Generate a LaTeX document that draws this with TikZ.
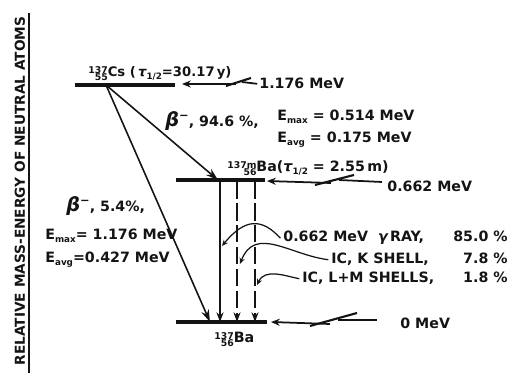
\documentclass[tikz,border=0pt]{standalone}
\usepackage{fontspec}
\setmainfont{DejaVu Sans}
\usetikzlibrary{arrows.meta, calc}
\definecolor{dsink}{HTML}{141414}

% small raised / lowered text for the decay-scheme labels
\newcommand{\lowtxt}[1]{\raisebox{-1.6pt}{\fontsize{5}{6}\selectfont #1}}
\newcommand{\hitxt}[1]{\raisebox{4pt}{\fontsize{6.5}{7}\selectfont #1}}
\newcommand{\nuc}[3]{\raisebox{-2pt}{\fontsize{5.3}{6}\selectfont
  \begin{tabular}[b]{@{}r@{}}#1\\[-1.8pt]#2\end{tabular}}#3}
\newcommand{\thalf}{{\itshape τ}\lowtxt{1/2}}
\newcommand{\bminus}{{\fontsize{11}{11}\selectfont\itshape β}\hitxt{−}}

\tikzset{
  every picture/.style={line join=round},
  lvl/.style={draw=dsink, line width=2pt},
  beta/.style={-{Stealth[length=7pt, width=4.5pt]}, draw=dsink, line width=0.9pt},
  gam/.style={beta, -{Stealth[length=5.5pt, width=4pt]}},
  ic/.style={gam, dash pattern=on 10pt off 2.5pt},
  feed/.style={-{Stealth[length=5pt, width=4pt]}, draw=dsink, line width=1pt},
  brk/.style={draw=dsink, line width=1.2pt},
  lead/.style={-{Stealth[length=3.5pt, width=3pt]}, draw=dsink, line width=0.7pt},
  lbl/.style={font=\bfseries\fontsize{8.1}{10}\selectfont, text=dsink,
    inner sep=0pt, anchor=base west},
  pct/.style={lbl, anchor=base east},
  axislbl/.style={font=\bfseries\fontsize{7.8}{9}\selectfont, text=dsink,
    rotate=90, inner xsep=0pt, inner ysep=1.3pt},
}

\begin{document}
\begin{tikzpicture}[x=0.02cm, y=-0.02cm]
\useasboundingbox (0,0) rectangle (512,377);

% ---- Ordinate
\node[axislbl] (axis) at (20,191) {RELATIVE MASS-ENERGY OF NEUTRAL ATOMS};
\draw[dsink, line width=0.8pt] ([xshift=0.6pt, yshift=-4pt]axis.south west)
  -- ([xshift=0.6pt, yshift=2pt]axis.south east);

% ---- Levels
\coordinate (cs-w)  at (75,85);
\coordinate (cs-e)  at (175,85);
\coordinate (cs-src) at (106,85);
\coordinate (bam-w) at (176,180);
\coordinate (bam-e) at (265,180);
\coordinate (ba-w)  at (176,322);
\coordinate (ba-e)  at (267,322);

\draw[lvl] (cs-w) -- (cs-e);
\draw[lvl] (bam-w) -- (bam-e);
\draw[lvl] (ba-w) -- (ba-e);

\node[lbl, font=\bfseries\fontsize{7.5}{10}\selectfont] (cs-lbl) at (88,77)
  {\nuc{137}{55}{Cs} (\,\thalf=30.17\,y)};
\node[lbl] (bam-lbl) at (227,172) {\nuc{137m}{56}{Ba}(\thalf{} = 2.55\,m)};
\node[lbl] (ba-lbl)  at (214,343) {\nuc{137}{56}{Ba}};

% ---- Level energies, arrow with a break from the value to the level
\node[lbl] (cs-en)  at (259,89)  {1.176 MeV};
\node[lbl] (bam-en) at (387,192) {0.662 MeV};
\node[lbl] (ba-en)  at (400,329) {0 MeV};

\coordinate (cs-tip)  at (182,84);
\coordinate (bam-tip) at (267,181);
\coordinate (ba-tip)  at (271,322);
\coordinate (cs-brk)  at (238,83);
\coordinate (bam-brk) at (334,181);
\coordinate (ba-brk)  at (333,321);
\coordinate (bam-end) at (382,182);
\coordinate (ba-end)  at (377,320);

\draw[dsink, line width=1pt] ([xshift=-1pt]cs-en.west) -- ($(cs-brk)+(4,-1)$);
\draw[feed] ($(cs-brk)+(-2,1)$) -- (cs-tip);
\draw[brk] ($(cs-brk)+(-12,3)$) -- ($(cs-brk)+(13,-5)$);

\draw[dsink, line width=1pt] (bam-end) -- ($(bam-brk)+(5,-1)$);
\draw[feed] ($(bam-brk)+(-3,2)$) -- (bam-tip);
\draw[brk] ($(bam-brk)+(-19,4)$) -- ($(bam-brk)+(20,-6)$);

\draw[dsink, line width=1pt] (ba-end) -- ($(ba-brk)+(5,-1)$);
\draw[feed] ($(ba-brk)+(-3,3)$) -- (ba-tip);
\draw[brk] ($(ba-brk)+(-23,5)$) -- ($(ba-brk)+(24,-8)$);

% ---- Beta branches
\coordinate (bam-hit) at (218,180);
\coordinate (ba-hit)  at (210,322);
\draw[beta] (cs-src) -- (bam-hit);
\draw[beta] (cs-src) -- (ba-hit);

\node[lbl] (b1-lbl)  at (165,127) {\bminus, 94.6 \%,};
\node[lbl] (b1-emax) at (277,121) {E\lowtxt{max} = 0.514 MeV};
\node[lbl] (b1-eavg) at (277,143) {E\lowtxt{avg} = 0.175 MeV};

\node[lbl] (b2-lbl)  at (66,212)  {\bminus, 5.4\%,};
\node[lbl] (b2-emax) at (45,240)  {E\lowtxt{max}= 1.176 MeV};
\node[lbl] (b2-eavg) at (45,263)  {E\lowtxt{avg}=0.427 MeV};

% ---- Isomeric transition: gamma ray (solid) and conversion electrons (dashed)
\coordinate (g-top)  at (220,181);
\coordinate (g-bot)  at (220,322);
\coordinate (k-top)  at (237,181);
\coordinate (k-bot)  at (237,322);
\coordinate (lm-top) at (255,181);
\coordinate (lm-bot) at (255,322);
\draw[gam] (g-top) -- (g-bot);
\draw[ic] (k-top) -- (k-bot);
\draw[ic] (lm-top) -- (lm-bot);

\node[lbl] (g-lbl)  at (283,242) {0.662 MeV \ {\itshape γ}\,RAY,};
\node[pct] (g-pct)  at (508,242) {85.0 \%};
\node[lbl] (k-lbl)  at (331,264) {IC, K SHELL,};
\node[pct] (k-pct)  at (508,264) {7.8 \%};
\node[lbl] (lm-lbl) at (302,283) {IC, L+M SHELLS,};
\node[pct] (lm-pct) at (508,283) {1.8 \%};

\coordinate (g-at)  at (222,246);
\coordinate (k-at)  at (240,264);
\coordinate (lm-at) at (257,285);
\draw[lead] ([xshift=-1.5pt]g-lbl.west) .. controls (262,218) and (245,218) .. (g-at);
\draw[lead] ([xshift=-1.5pt]k-lbl.west) .. controls (290,255) and (255,225) .. (k-at);
\draw[lead] ([xshift=-1.5pt]lm-lbl.west) .. controls (285,276) and (265,268) .. (lm-at);

\end{tikzpicture}
\end{document}
